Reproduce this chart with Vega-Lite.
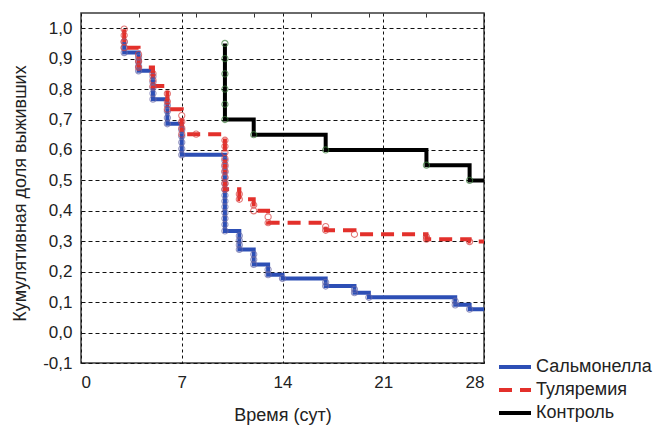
{
  "$schema": "https://vega.github.io/schema/vega-lite/v6.json",
  "width": 403,
  "height": 350,
  "autosize": {"type": "none"},
  "padding": {"left": 81, "top": 13, "right": 173, "bottom": 62},
  "background": "white",
  "config": {
    "font": "Liberation Sans",
    "view": {"stroke": "#3a3a3a", "strokeWidth": 1.5},
    "axis": {
      "labelFont": "Liberation Sans",
      "titleFont": "Liberation Sans",
      "labelColor": "#222222",
      "titleColor": "#222222",
      "labelFontSize": 17,
      "titleFontSize": 18,
      "titleFontWeight": "normal",
      "gridColor": "#111111",
      "gridOpacity": 1,
      "gridWidth": 1,
      "domain": false,
      "ticks": false,
      "labelOverlap": false
    }
  },
  "datasets": {
    "curves": [
      {"series": "Сальмонелла", "i": 1, "t": 3, "s": 0.955},
      {"series": "Сальмонелла", "i": 2, "t": 3, "s": 0.92},
      {"series": "Сальмонелла", "i": 3, "t": 4, "s": 0.92},
      {"series": "Сальмонелла", "i": 4, "t": 4, "s": 0.86},
      {"series": "Сальмонелла", "i": 5, "t": 5, "s": 0.86},
      {"series": "Сальмонелла", "i": 6, "t": 5, "s": 0.767},
      {"series": "Сальмонелла", "i": 7, "t": 6, "s": 0.767},
      {"series": "Сальмонелла", "i": 8, "t": 6, "s": 0.686},
      {"series": "Сальмонелла", "i": 9, "t": 7, "s": 0.686},
      {"series": "Сальмонелла", "i": 10, "t": 7, "s": 0.584},
      {"series": "Сальмонелла", "i": 11, "t": 10, "s": 0.584},
      {"series": "Сальмонелла", "i": 12, "t": 10, "s": 0.334},
      {"series": "Сальмонелла", "i": 13, "t": 11, "s": 0.334},
      {"series": "Сальмонелла", "i": 14, "t": 11, "s": 0.273},
      {"series": "Сальмонелла", "i": 15, "t": 12, "s": 0.273},
      {"series": "Сальмонелла", "i": 16, "t": 12, "s": 0.224},
      {"series": "Сальмонелла", "i": 17, "t": 13, "s": 0.224},
      {"series": "Сальмонелла", "i": 18, "t": 13, "s": 0.19},
      {"series": "Сальмонелла", "i": 19, "t": 14, "s": 0.19},
      {"series": "Сальмонелла", "i": 20, "t": 14, "s": 0.178},
      {"series": "Сальмонелла", "i": 21, "t": 17, "s": 0.178},
      {"series": "Сальмонелла", "i": 22, "t": 17, "s": 0.153},
      {"series": "Сальмонелла", "i": 23, "t": 19, "s": 0.153},
      {"series": "Сальмонелла", "i": 24, "t": 19, "s": 0.131},
      {"series": "Сальмонелла", "i": 25, "t": 20, "s": 0.131},
      {"series": "Сальмонелла", "i": 26, "t": 20, "s": 0.116},
      {"series": "Сальмонелла", "i": 27, "t": 26, "s": 0.116},
      {"series": "Сальмонелла", "i": 28, "t": 26, "s": 0.091},
      {"series": "Сальмонелла", "i": 29, "t": 27, "s": 0.091},
      {"series": "Сальмонелла", "i": 30, "t": 27, "s": 0.077},
      {"series": "Сальмонелла", "i": 31, "t": 28, "s": 0.077},
      {"series": "Туляремия", "i": 1, "t": 3, "s": 0.997},
      {"series": "Туляремия", "i": 2, "t": 3, "s": 0.936},
      {"series": "Туляремия", "i": 3, "t": 4, "s": 0.936},
      {"series": "Туляремия", "i": 4, "t": 4, "s": 0.871},
      {"series": "Туляремия", "i": 5, "t": 5, "s": 0.871},
      {"series": "Туляремия", "i": 6, "t": 5, "s": 0.81},
      {"series": "Туляремия", "i": 7, "t": 6, "s": 0.81},
      {"series": "Туляремия", "i": 8, "t": 6, "s": 0.734},
      {"series": "Туляремия", "i": 9, "t": 7, "s": 0.734},
      {"series": "Туляремия", "i": 10, "t": 7, "s": 0.652},
      {"series": "Туляремия", "i": 11, "t": 10, "s": 0.652},
      {"series": "Туляремия", "i": 12, "t": 10, "s": 0.471},
      {"series": "Туляремия", "i": 13, "t": 11, "s": 0.471},
      {"series": "Туляремия", "i": 14, "t": 11, "s": 0.438},
      {"series": "Туляремия", "i": 15, "t": 12, "s": 0.438},
      {"series": "Туляремия", "i": 16, "t": 12, "s": 0.4},
      {"series": "Туляремия", "i": 17, "t": 13, "s": 0.4},
      {"series": "Туляремия", "i": 18, "t": 13, "s": 0.361},
      {"series": "Туляремия", "i": 19, "t": 17, "s": 0.361},
      {"series": "Туляремия", "i": 20, "t": 17, "s": 0.336},
      {"series": "Туляремия", "i": 21, "t": 19, "s": 0.336},
      {"series": "Туляремия", "i": 22, "t": 19, "s": 0.323},
      {"series": "Туляремия", "i": 23, "t": 24, "s": 0.323},
      {"series": "Туляремия", "i": 24, "t": 24, "s": 0.307},
      {"series": "Туляремия", "i": 25, "t": 27, "s": 0.307},
      {"series": "Туляремия", "i": 26, "t": 27, "s": 0.299},
      {"series": "Туляремия", "i": 27, "t": 28, "s": 0.299},
      {"series": "Контроль", "i": 1, "t": 10, "s": 0.95},
      {"series": "Контроль", "i": 2, "t": 10, "s": 0.7},
      {"series": "Контроль", "i": 3, "t": 12, "s": 0.7},
      {"series": "Контроль", "i": 4, "t": 12, "s": 0.65},
      {"series": "Контроль", "i": 5, "t": 17, "s": 0.65},
      {"series": "Контроль", "i": 6, "t": 17, "s": 0.6},
      {"series": "Контроль", "i": 7, "t": 24, "s": 0.6},
      {"series": "Контроль", "i": 8, "t": 24, "s": 0.55},
      {"series": "Контроль", "i": 9, "t": 27, "s": 0.55},
      {"series": "Контроль", "i": 10, "t": 27, "s": 0.5},
      {"series": "Контроль", "i": 11, "t": 28, "s": 0.5}
    ],
    "obs": [
      {"series": "Сальмонелла", "t": 3, "s": 0.955},
      {"series": "Сальмонелла", "t": 3, "s": 0.937},
      {"series": "Сальмонелла", "t": 3, "s": 0.92},
      {"series": "Сальмонелла", "t": 4, "s": 0.905},
      {"series": "Сальмонелла", "t": 4, "s": 0.89},
      {"series": "Сальмонелла", "t": 4, "s": 0.875},
      {"series": "Сальмонелла", "t": 4, "s": 0.86},
      {"series": "Сальмонелла", "t": 5, "s": 0.842},
      {"series": "Сальмонелла", "t": 5, "s": 0.823},
      {"series": "Сальмонелла", "t": 5, "s": 0.805},
      {"series": "Сальмонелла", "t": 5, "s": 0.786},
      {"series": "Сальмонелла", "t": 5, "s": 0.767},
      {"series": "Сальмонелла", "t": 6, "s": 0.747},
      {"series": "Сальмонелла", "t": 6, "s": 0.727},
      {"series": "Сальмонелла", "t": 6, "s": 0.706},
      {"series": "Сальмонелла", "t": 6, "s": 0.686},
      {"series": "Сальмонелла", "t": 7, "s": 0.666},
      {"series": "Сальмонелла", "t": 7, "s": 0.645},
      {"series": "Сальмонелла", "t": 7, "s": 0.625},
      {"series": "Сальмонелла", "t": 7, "s": 0.604},
      {"series": "Сальмонелла", "t": 7, "s": 0.584},
      {"series": "Сальмонелла", "t": 10, "s": 0.565},
      {"series": "Сальмонелла", "t": 10, "s": 0.546},
      {"series": "Сальмонелла", "t": 10, "s": 0.527},
      {"series": "Сальмонелла", "t": 10, "s": 0.508},
      {"series": "Сальмонелла", "t": 10, "s": 0.489},
      {"series": "Сальмонелла", "t": 10, "s": 0.47},
      {"series": "Сальмонелла", "t": 10, "s": 0.451},
      {"series": "Сальмонелла", "t": 10, "s": 0.432},
      {"series": "Сальмонелла", "t": 10, "s": 0.413},
      {"series": "Сальмонелла", "t": 10, "s": 0.394},
      {"series": "Сальмонелла", "t": 10, "s": 0.375},
      {"series": "Сальмонелла", "t": 10, "s": 0.355},
      {"series": "Сальмонелла", "t": 10, "s": 0.334},
      {"series": "Сальмонелла", "t": 11, "s": 0.318},
      {"series": "Сальмонелла", "t": 11, "s": 0.303},
      {"series": "Сальмонелла", "t": 11, "s": 0.288},
      {"series": "Сальмонелла", "t": 11, "s": 0.273},
      {"series": "Сальмонелла", "t": 12, "s": 0.257},
      {"series": "Сальмонелла", "t": 12, "s": 0.24},
      {"series": "Сальмонелла", "t": 12, "s": 0.224},
      {"series": "Сальмонелла", "t": 13, "s": 0.207},
      {"series": "Сальмонелла", "t": 13, "s": 0.19},
      {"series": "Сальмонелла", "t": 14, "s": 0.178},
      {"series": "Сальмонелла", "t": 17, "s": 0.165},
      {"series": "Сальмонелла", "t": 17, "s": 0.153},
      {"series": "Сальмонелла", "t": 19, "s": 0.142},
      {"series": "Сальмонелла", "t": 19, "s": 0.131},
      {"series": "Сальмонелла", "t": 20, "s": 0.116},
      {"series": "Сальмонелла", "t": 26, "s": 0.103},
      {"series": "Сальмонелла", "t": 26, "s": 0.091},
      {"series": "Сальмонелла", "t": 27, "s": 0.077},
      {"series": "Туляремия", "t": 3, "s": 0.997},
      {"series": "Туляремия", "t": 3, "s": 0.977},
      {"series": "Туляремия", "t": 3, "s": 0.956},
      {"series": "Туляремия", "t": 3, "s": 0.936},
      {"series": "Туляремия", "t": 4, "s": 0.914},
      {"series": "Туляремия", "t": 4, "s": 0.892},
      {"series": "Туляремия", "t": 4, "s": 0.871},
      {"series": "Туляремия", "t": 5, "s": 0.851},
      {"series": "Туляремия", "t": 5, "s": 0.83},
      {"series": "Туляремия", "t": 5, "s": 0.81},
      {"series": "Туляремия", "t": 6, "s": 0.785},
      {"series": "Туляремия", "t": 6, "s": 0.759},
      {"series": "Туляремия", "t": 6, "s": 0.734},
      {"series": "Туляремия", "t": 7, "s": 0.713},
      {"series": "Туляремия", "t": 7, "s": 0.693},
      {"series": "Туляремия", "t": 7, "s": 0.672},
      {"series": "Туляремия", "t": 7, "s": 0.652},
      {"series": "Туляремия", "t": 8, "s": 0.652},
      {"series": "Туляремия", "t": 10, "s": 0.632},
      {"series": "Туляремия", "t": 10, "s": 0.612},
      {"series": "Туляремия", "t": 10, "s": 0.592},
      {"series": "Туляремия", "t": 10, "s": 0.572},
      {"series": "Туляремия", "t": 10, "s": 0.551},
      {"series": "Туляремия", "t": 10, "s": 0.531},
      {"series": "Туляремия", "t": 10, "s": 0.511},
      {"series": "Туляремия", "t": 10, "s": 0.491},
      {"series": "Туляремия", "t": 10, "s": 0.471},
      {"series": "Туляремия", "t": 11, "s": 0.455},
      {"series": "Туляремия", "t": 11, "s": 0.438},
      {"series": "Туляремия", "t": 12, "s": 0.419},
      {"series": "Туляремия", "t": 12, "s": 0.4},
      {"series": "Туляремия", "t": 13, "s": 0.38},
      {"series": "Туляремия", "t": 13, "s": 0.361},
      {"series": "Туляремия", "t": 17, "s": 0.348},
      {"series": "Туляремия", "t": 17, "s": 0.336},
      {"series": "Туляремия", "t": 19, "s": 0.323},
      {"series": "Туляремия", "t": 24, "s": 0.315},
      {"series": "Туляремия", "t": 24, "s": 0.307},
      {"series": "Туляремия", "t": 27, "s": 0.299},
      {"series": "Контроль", "t": 10, "s": 0.95},
      {"series": "Контроль", "t": 10, "s": 0.9},
      {"series": "Контроль", "t": 10, "s": 0.85},
      {"series": "Контроль", "t": 10, "s": 0.8},
      {"series": "Контроль", "t": 10, "s": 0.75},
      {"series": "Контроль", "t": 10, "s": 0.7},
      {"series": "Контроль", "t": 12, "s": 0.65},
      {"series": "Контроль", "t": 17, "s": 0.6},
      {"series": "Контроль", "t": 24, "s": 0.55},
      {"series": "Контроль", "t": 27, "s": 0.5}
    ]
  },
  "layer": [
    {
      "data": {"name": "curves"},
      "mark": {"type": "line", "strokeWidth": 4, "strokeJoin": "miter"},
      "encoding": {
        "x": {
          "field": "t", "type": "quantitative",
          "scale": {"domain": [0, 28], "nice": false, "zero": false},
          "axis": {
            "values": [0, 7, 14, 21, 28],
            "title": "Время (сут)",
            "labelPadding": 11,
            "titleY": 43,
            "titleBaseline": "top",
            "grid": true,
            "gridDash": [3, 3]
          }
        },
        "y": {
          "field": "s", "type": "quantitative",
          "scale": {"domain": [-0.1, 1.05], "nice": false, "zero": false},
          "axis": {
            "values": [-0.1, 0, 0.1, 0.2, 0.3, 0.4, 0.5, 0.6, 0.7, 0.8, 0.9, 1.0],
            "tickCount": 12,
            "labelExpr": "replace(replace(format(datum.value, '.1f'), '.', ','), '−', '-')",
            "title": "Кумулятивная доля выживших",
            "labelPadding": 9,
            "titleX": -61,
            "titleY": 180,
            "titleAngle": 270,
            "titleAlign": "center",
            "titleBaseline": "middle",
            "grid": true,
            "gridDash": [4, 3]
          }
        },
        "color": {
          "field": "series", "type": "nominal",
          "scale": {"domain": ["Сальмонелла", "Туляремия", "Контроль"], "range": ["#2d4fb5", "#e3302b", "#000000"]},
          "legend": {
            "title": null,
            "orient": "none",
            "legendX": 425,
            "legendY": 345,
            "symbolType": "M-3.2,0H3.2",
            "symbolSize": 100,
            "symbolStrokeWidth": 4,
            "labelFont": "Liberation Sans",
            "labelFontSize": 18,
            "labelColor": "#222222",
            "labelOffset": 12,
            "rowPadding": 5
          }
        },
        "strokeDash": {
          "field": "series", "type": "nominal",
          "scale": {"domain": ["Сальмонелла", "Туляремия", "Контроль"], "range": [[1, 0], [13, 8], [1, 0]]},
          "legend": {
            "title": null,
            "orient": "none",
            "legendX": 425,
            "legendY": 345,
            "symbolType": "M-3.2,0H3.2",
            "symbolSize": 100,
            "symbolStrokeWidth": 4,
            "labelFont": "Liberation Sans",
            "labelFontSize": 18,
            "labelColor": "#222222",
            "labelOffset": 12,
            "rowPadding": 5
          }
        },
        "order": {"field": "i", "type": "quantitative"}
      }
    },
    {
      "data": {"name": "obs"},
      "mark": {"type": "point", "shape": "circle", "filled": false, "size": 38, "strokeWidth": 1.1},
      "encoding": {
        "x": {
          "field": "t", "type": "quantitative",
          "axis": {
            "orient": "top",
            "values": [4, 8, 12, 16, 20, 24],
            "labels": false,
            "domain": false,
            "grid": false,
            "ticks": true,
            "tickSize": -4,
            "tickColor": "#333333",
            "title": null
          }
        },
        "y": {"field": "s", "type": "quantitative"},
        "stroke": {
          "field": "series", "type": "nominal",
          "scale": {"domain": ["Сальмонелла", "Туляремия", "Контроль"], "range": ["#6a6aa8", "#d84040", "#3c7d3c"]},
          "legend": null
        }
      }
    }
  ],
  "resolve": {"axis": {"x": "independent"}}
}
